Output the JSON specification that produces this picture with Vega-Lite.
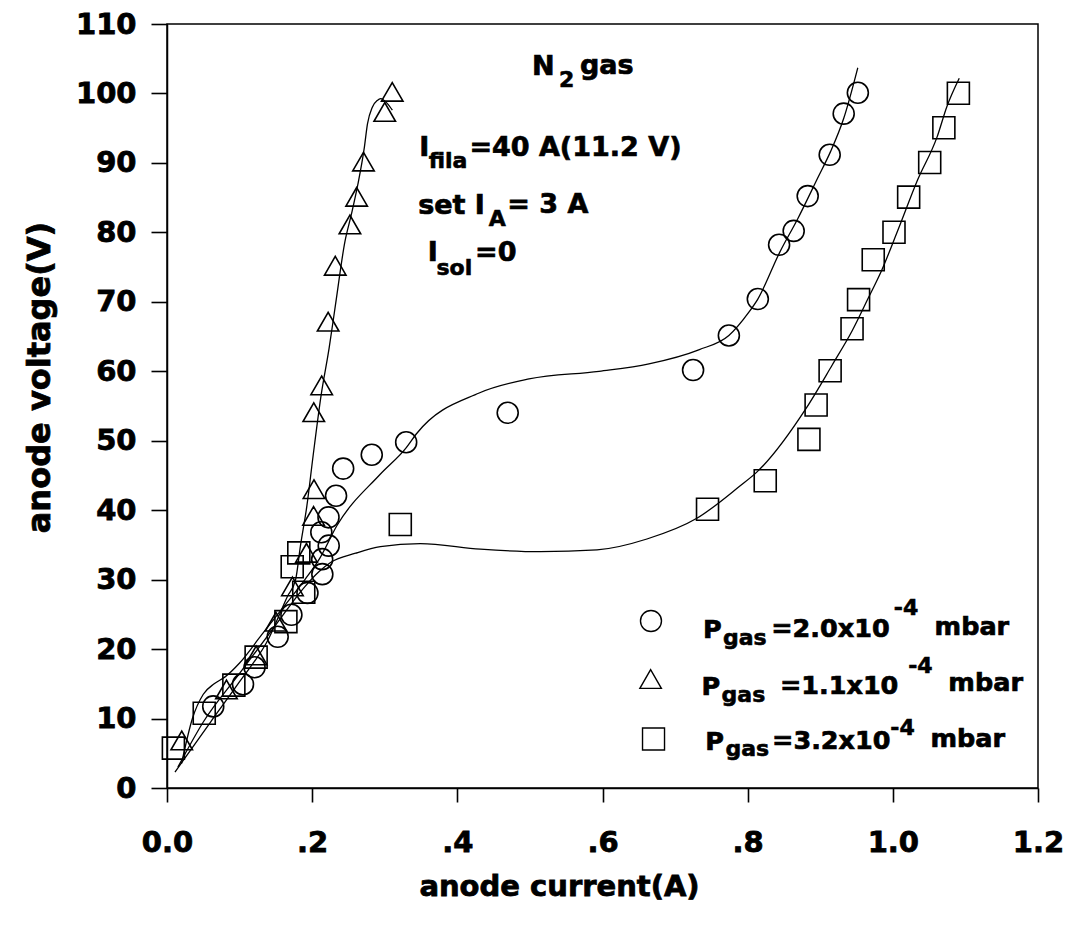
{
  "$schema": "https://vega.github.io/schema/vega-lite/v6.json",
  "width": 871,
  "height": 764,
  "autosize": {"type": "none"},
  "padding": {"left": 167, "top": 24, "right": 31, "bottom": 141},
  "background": "white",
  "config": {
    "view": {"stroke": "black", "strokeWidth": 1.5},
    "font": "DejaVu Sans",
    "axis": {
      "domainColor": "black", "domainWidth": 1.5,
      "tickColor": "black", "tickWidth": 1.6,
      "grid": false,
      "labelFont": "DejaVu Sans", "labelFontWeight": "bold", "labelFontSize": 29, "labelColor": "black",
      "titleFont": "DejaVu Sans", "titleFontWeight": "bold", "titleColor": "black",
      "labelOverlap": false, "labelFlush": false
    }
  },
  "datasets": {
    "pts": [
      {"P": "2.0", "x": 0.0637, "y": 11.75}, {"P": "2.0", "x": 0.1047, "y": 14.94}, {"P": "2.0", "x": 0.1206, "y": 17.38},
      {"P": "2.0", "x": 0.1525, "y": 21.77}, {"P": "2.0", "x": 0.1714, "y": 24.94}, {"P": "2.0", "x": 0.1935, "y": 28.09},
      {"P": "2.0", "x": 0.2140, "y": 30.79}, {"P": "2.0", "x": 0.2138, "y": 32.95}, {"P": "2.0", "x": 0.2228, "y": 34.89},
      {"P": "2.0", "x": 0.2126, "y": 36.82}, {"P": "2.0", "x": 0.2225, "y": 38.97}, {"P": "2.0", "x": 0.2329, "y": 42.08},
      {"P": "2.0", "x": 0.2427, "y": 45.99}, {"P": "2.0", "x": 0.2821, "y": 47.98}, {"P": "2.0", "x": 0.3295, "y": 49.78},
      {"P": "2.0", "x": 0.4694, "y": 54.02}, {"P": "2.0", "x": 0.7248, "y": 60.18}, {"P": "2.0", "x": 0.7741, "y": 65.15},
      {"P": "2.0", "x": 0.8140, "y": 70.40}, {"P": "2.0", "x": 0.8433, "y": 78.21}, {"P": "2.0", "x": 0.8634, "y": 80.21},
      {"P": "2.0", "x": 0.8827, "y": 85.22}, {"P": "2.0", "x": 0.9130, "y": 91.17}, {"P": "2.0", "x": 0.9323, "y": 97.09},
      {"P": "2.0", "x": 0.9518, "y": 100.10},
      {"P": "1.1", "x": 0.0203, "y": 6.85}, {"P": "1.1", "x": 0.0819, "y": 14.19}, {"P": "1.1", "x": 0.1228, "y": 19.08},
      {"P": "1.1", "x": 0.1501, "y": 23.94}, {"P": "1.1", "x": 0.1728, "y": 29.03}, {"P": "1.1", "x": 0.1922, "y": 33.86},
      {"P": "1.1", "x": 0.2019, "y": 39.18}, {"P": "1.1", "x": 0.2025, "y": 43.03}, {"P": "1.1", "x": 0.2022, "y": 54.10},
      {"P": "1.1", "x": 0.2131, "y": 57.97}, {"P": "1.1", "x": 0.2220, "y": 67.13}, {"P": "1.1", "x": 0.2318, "y": 75.19},
      {"P": "1.1", "x": 0.2520, "y": 81.14}, {"P": "1.1", "x": 0.2613, "y": 85.12}, {"P": "1.1", "x": 0.2707, "y": 90.19},
      {"P": "1.1", "x": 0.3000, "y": 97.33}, {"P": "1.1", "x": 0.3103, "y": 100.23},
      {"P": "3.2", "x": 0.0088, "y": 5.74}, {"P": "3.2", "x": 0.0513, "y": 10.77}, {"P": "3.2", "x": 0.0921, "y": 14.81},
      {"P": "3.2", "x": 0.1228, "y": 18.84}, {"P": "3.2", "x": 0.1638, "y": 23.96}, {"P": "3.2", "x": 0.1884, "y": 28.19},
      {"P": "3.2", "x": 0.1725, "y": 31.85}, {"P": "3.2", "x": 0.1816, "y": 33.86}, {"P": "3.2", "x": 0.3214, "y": 37.93},
      {"P": "3.2", "x": 0.7447, "y": 40.13}, {"P": "3.2", "x": 0.8242, "y": 44.24}, {"P": "3.2", "x": 0.8844, "y": 50.19},
      {"P": "3.2", "x": 0.8943, "y": 55.15}, {"P": "3.2", "x": 0.9136, "y": 60.07}, {"P": "3.2", "x": 0.9438, "y": 66.12},
      {"P": "3.2", "x": 0.9528, "y": 70.31}, {"P": "3.2", "x": 0.9730, "y": 76.05}, {"P": "3.2", "x": 1.0016, "y": 80.02},
      {"P": "3.2", "x": 1.0218, "y": 85.08}, {"P": "3.2", "x": 1.0508, "y": 90.06}, {"P": "3.2", "x": 1.0703, "y": 95.07},
      {"P": "3.2", "x": 1.0903, "y": 100.03}
    ],
    "curves": [
      {"P": "2.0", "x": 0.020, "y": 3.5}, {"P": "2.0", "x": 0.035, "y": 10.0}, {"P": "2.0", "x": 0.050, "y": 13.5},
      {"P": "2.0", "x": 0.065, "y": 15.0}, {"P": "2.0", "x": 0.080, "y": 16.0}, {"P": "2.0", "x": 0.100, "y": 18.0},
      {"P": "2.0", "x": 0.130, "y": 22.0}, {"P": "2.0", "x": 0.160, "y": 26.0}, {"P": "2.0", "x": 0.190, "y": 30.0},
      {"P": "2.0", "x": 0.210, "y": 33.0}, {"P": "2.0", "x": 0.2342, "y": 37.79}, {"P": "2.0", "x": 0.2931, "y": 45.11},
      {"P": "2.0", "x": 0.3297, "y": 49.02}, {"P": "2.0", "x": 0.3434, "y": 50.97}, {"P": "2.0", "x": 0.4301, "y": 56.87},
      {"P": "2.0", "x": 0.4988, "y": 58.90}, {"P": "2.0", "x": 0.5952, "y": 60.00}, {"P": "2.0", "x": 0.6640, "y": 61.07},
      {"P": "2.0", "x": 0.7326, "y": 63.09}, {"P": "2.0", "x": 0.7741, "y": 65.15}, {"P": "2.0", "x": 0.8014, "y": 68.47},
      {"P": "2.0", "x": 0.8140, "y": 70.40}, {"P": "2.0", "x": 0.8443, "y": 77.16}, {"P": "2.0", "x": 0.8692, "y": 82.00},
      {"P": "2.0", "x": 0.8963, "y": 87.79}, {"P": "2.0", "x": 0.9143, "y": 91.66}, {"P": "2.0", "x": 0.9325, "y": 96.47},
      {"P": "2.0", "x": 0.9517, "y": 103.7},
      {"P": "1.1", "x": 0.011, "y": 2.3}, {"P": "1.1", "x": 0.060, "y": 9.5}, {"P": "1.1", "x": 0.100, "y": 15.3},
      {"P": "1.1", "x": 0.140, "y": 21.5}, {"P": "1.1", "x": 0.1659, "y": 27.57}, {"P": "1.1", "x": 0.1772, "y": 30.0},
      {"P": "1.1", "x": 0.1838, "y": 34.82}, {"P": "1.1", "x": 0.1927, "y": 40.61}, {"P": "1.1", "x": 0.2013, "y": 47.84},
      {"P": "1.1", "x": 0.2123, "y": 56.53}, {"P": "1.1", "x": 0.2233, "y": 63.29}, {"P": "1.1", "x": 0.2321, "y": 69.56},
      {"P": "1.1", "x": 0.2452, "y": 78.71}, {"P": "1.1", "x": 0.2540, "y": 82.58}, {"P": "1.1", "x": 0.2630, "y": 86.93},
      {"P": "1.1", "x": 0.2719, "y": 92.24}, {"P": "1.1", "x": 0.2762, "y": 95.62}, {"P": "1.1", "x": 0.2829, "y": 98.03},
      {"P": "1.1", "x": 0.2898, "y": 99.0}, {"P": "1.1", "x": 0.2944, "y": 99.25}, {"P": "1.1", "x": 0.3036, "y": 98.54},
      {"P": "1.1", "x": 0.3105, "y": 97.59},
      {"P": "3.2", "x": 0.015, "y": 3.0}, {"P": "3.2", "x": 0.050, "y": 9.5}, {"P": "3.2", "x": 0.100, "y": 16.5},
      {"P": "3.2", "x": 0.150, "y": 23.5}, {"P": "3.2", "x": 0.190, "y": 29.0}, {"P": "3.2", "x": 0.210, "y": 31.2},
      {"P": "3.2", "x": 0.2253, "y": 32.47}, {"P": "3.2", "x": 0.260, "y": 33.8}, {"P": "3.2", "x": 0.2940, "y": 34.75},
      {"P": "3.2", "x": 0.3491, "y": 35.19}, {"P": "3.2", "x": 0.4318, "y": 34.38}, {"P": "3.2", "x": 0.5144, "y": 34.03},
      {"P": "3.2", "x": 0.5925, "y": 34.29}, {"P": "3.2", "x": 0.6612, "y": 35.85}, {"P": "3.2", "x": 0.7300, "y": 38.83},
      {"P": "3.2", "x": 0.7893, "y": 43.48}, {"P": "3.2", "x": 0.8122, "y": 45.44}, {"P": "3.2", "x": 0.8805, "y": 54.66},
      {"P": "3.2", "x": 0.9167, "y": 60.94}, {"P": "3.2", "x": 0.9438, "y": 65.79}, {"P": "3.2", "x": 0.9665, "y": 70.61},
      {"P": "3.2", "x": 0.9844, "y": 74.48}, {"P": "3.2", "x": 1.0068, "y": 80.26}, {"P": "3.2", "x": 1.0339, "y": 87.49},
      {"P": "3.2", "x": 1.0610, "y": 93.75}, {"P": "3.2", "x": 1.0744, "y": 98.09}, {"P": "3.2", "x": 1.0915, "y": 102.19}
    ],
    "legendsym": [
      {"P": "2.0", "x": 0.6668, "y": 24.05},
      {"P": "1.1", "x": 0.6663, "y": 15.69},
      {"P": "3.2", "x": 0.6703, "y": 7.06}
    ],
    "labels": [
      {"t": "N", "x": 0.5028, "y": 102.69, "r": "note"},
      {"t": "2", "x": 0.5401, "y": 101.0, "r": "script"},
      {"t": "gas", "x": 0.5689, "y": 102.77, "r": "note"},
      {"t": "I", "x": 0.3477, "y": 90.96, "r": "note"},
      {"t": "fila", "x": 0.3605, "y": 89.24, "r": "script"},
      {"t": "=40 A(11.2 V)", "x": 0.4166, "y": 91.05, "r": "note"},
      {"t": "set I", "x": 0.3460, "y": 82.62, "r": "note"},
      {"t": "A", "x": 0.4433, "y": 80.98, "r": "script"},
      {"t": "= 3 A", "x": 0.4689, "y": 82.79, "r": "note"},
      {"t": "I", "x": 0.3592, "y": 75.81, "r": "note"},
      {"t": "sol", "x": 0.3713, "y": 73.85, "r": "script"},
      {"t": "=0", "x": 0.4245, "y": 75.89, "r": "note"},
      {"t": "P", "x": 0.7384, "y": 21.58, "r": "key"},
      {"t": "gas", "x": 0.7659, "y": 20.61, "r": "script"},
      {"t": "=2.0x10", "x": 0.8325, "y": 21.73, "r": "key"},
      {"t": "-4", "x": 1.0013, "y": 24.88, "r": "script"},
      {"t": "mbar", "x": 1.0575, "y": 22.1, "r": "key"},
      {"t": "P", "x": 0.7365, "y": 13.37, "r": "key"},
      {"t": "gas", "x": 0.7641, "y": 12.40, "r": "script"},
      {"t": "=1.1x10", "x": 0.8444, "y": 13.55, "r": "key"},
      {"t": "-4", "x": 1.0212, "y": 16.58, "r": "script"},
      {"t": "mbar", "x": 1.0765, "y": 13.93, "r": "key"},
      {"t": "P", "x": 0.7417, "y": 5.46, "r": "key"},
      {"t": "gas", "x": 0.7693, "y": 4.64, "r": "script"},
      {"t": "=3.2x10", "x": 0.8336, "y": 5.60, "r": "key"},
      {"t": "-4", "x": 0.9966, "y": 7.60, "r": "script"},
      {"t": "mbar", "x": 1.0518, "y": 5.96, "r": "key"}
    ]
  },
  "layer": [
    {
      "data": {"name": "curves"},
      "mark": {"type": "line", "color": "black", "strokeWidth": 1.3, "interpolate": "monotone"},
      "encoding": {
        "x": {"field": "x", "type": "quantitative", "scale": {"domain": [0, 1.2], "nice": false},
          "axis": {"title": "anode current(A)", "values": [0, 0.2, 0.4, 0.6, 0.8, 1.0, 1.2],
            "labelExpr": "datum.value == 0 ? '0.0' : (datum.value < 0.99 ? substring(format(datum.value, '.1f'), 1) : format(datum.value, '.1f'))",
            "tickSize": 14, "labelPadding": 26, "titleFontSize": 29, "titleX": 392, "titleY": 107, "titleAlign": "center", "titleBaseline": "alphabetic",
            "encoding": {"labels": {"stroke": {"value": "black"}, "strokeWidth": {"value": 0.8}},
                         "title": {"stroke": {"value": "black"}, "strokeWidth": {"value": 0.8}}}}},
        "y": {"field": "y", "type": "quantitative", "scale": {"domain": [0, 110], "nice": false},
          "axis": {"title": "anode voltage(V)", "values": [0, 10, 20, 30, 40, 50, 60, 70, 80, 90, 100, 110],
            "tickSize": 16, "labelPadding": 15, "titleFontSize": 32, "titleX": -118, "titleY": 353, "titleAngle": -90, "titleAlign": "center", "titleBaseline": "alphabetic",
            "encoding": {"labels": {"stroke": {"value": "black"}, "strokeWidth": {"value": 0.8}},
                         "title": {"stroke": {"value": "black"}, "strokeWidth": {"value": 0.8}}}}},
        "detail": {"field": "P", "type": "nominal"}
      }
    },
    {
      "data": {"name": "pts"},
      "mark": {"type": "point", "filled": false, "color": "black", "strokeWidth": 1.6, "opacity": 1},
      "encoding": {
        "x": {"field": "x", "type": "quantitative"},
        "y": {"field": "y", "type": "quantitative"},
        "shape": {"field": "P", "type": "nominal", "scale": {"domain": ["2.0", "1.1", "3.2"], "range": ["circle", "triangle-up", "square"]}, "legend": null},
        "size": {"field": "P", "type": "ordinal", "scale": {"domain": ["2.0", "1.1", "3.2"], "range": [441, 484, 324]}, "legend": null}
      }
    },
    {
      "data": {"name": "legendsym"},
      "mark": {"type": "point", "filled": false, "color": "black", "strokeWidth": 1.4, "opacity": 1},
      "encoding": {
        "x": {"field": "x", "type": "quantitative"},
        "y": {"field": "y", "type": "quantitative"},
        "shape": {"field": "P", "type": "nominal", "legend": null},
        "size": {"field": "P", "type": "ordinal", "legend": null}
      }
    },
    {
      "data": {"name": "labels"},
      "transform": [{"filter": "datum.r == 'note'"}],
      "mark": {"type": "text", "align": "left", "baseline": "alphabetic", "font": "DejaVu Sans", "fontWeight": "bold", "fontSize": 27, "color": "black", "stroke": "black", "strokeWidth": 0.7},
      "encoding": {
        "x": {"field": "x", "type": "quantitative"},
        "y": {"field": "y", "type": "quantitative"},
        "text": {"field": "t"}
      }
    },
    {
      "data": {"name": "labels"},
      "transform": [{"filter": "datum.r == 'key'"}],
      "mark": {"type": "text", "align": "left", "baseline": "alphabetic", "font": "DejaVu Sans", "fontWeight": "bold", "fontSize": 25.5, "color": "black", "stroke": "black", "strokeWidth": 0.7},
      "encoding": {
        "x": {"field": "x", "type": "quantitative"},
        "y": {"field": "y", "type": "quantitative"},
        "text": {"field": "t"}
      }
    },
    {
      "data": {"name": "labels"},
      "transform": [{"filter": "datum.r == 'script'"}],
      "mark": {"type": "text", "align": "left", "baseline": "alphabetic", "font": "DejaVu Sans", "fontWeight": "bold", "fontSize": 22, "color": "black", "stroke": "black", "strokeWidth": 0.6},
      "encoding": {
        "x": {"field": "x", "type": "quantitative"},
        "y": {"field": "y", "type": "quantitative"},
        "text": {"field": "t"}
      }
    }
  ]
}
